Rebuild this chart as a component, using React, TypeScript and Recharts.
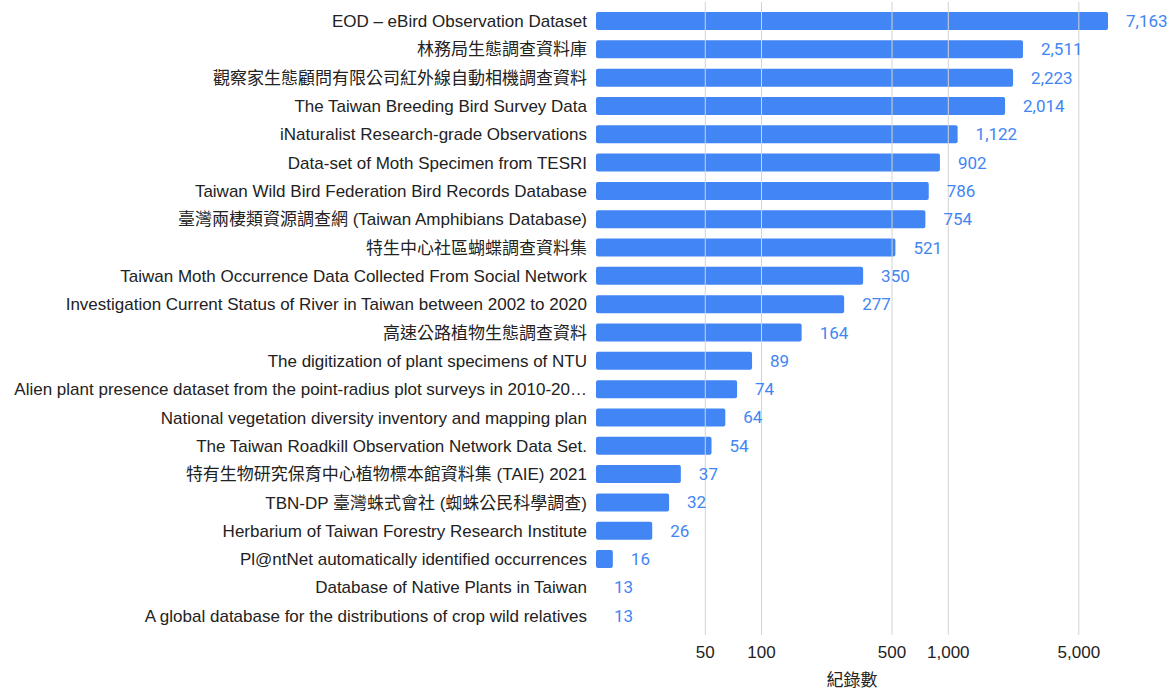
import React from 'react';
import { BarChart, Bar, XAxis, YAxis, ReferenceLine, LabelList } from 'recharts';

const categories: string[] = [
  'EOD – eBird Observation Dataset',
  '林務局生態調查資料庫',
  '觀察家生態顧問有限公司紅外線自動相機調查資料',
  'The Taiwan Breeding Bird Survey Data',
  'iNaturalist Research-grade Observations',
  'Data-set of Moth Specimen from TESRI',
  'Taiwan Wild Bird Federation Bird Records Database',
  '臺灣兩棲類資源調查網 (Taiwan Amphibians Database)',
  '特生中心社區蝴蝶調查資料集',
  'Taiwan Moth Occurrence Data Collected From Social Network',
  'Investigation Current Status of River in Taiwan between 2002 to 2020',
  '高速公路植物生態調查資料',
  'The digitization of plant specimens of NTU',
  'Alien plant presence dataset from the point-radius plot surveys in 2010-20…',
  'National vegetation diversity inventory and mapping plan',
  'The Taiwan Roadkill Observation Network Data Set.',
  '特有生物研究保育中心植物標本館資料集 (TAIE) 2021',
  'TBN-DP 臺灣蛛式會社 (蜘蛛公民科學調查)',
  'Herbarium of Taiwan Forestry Research Institute',
  'Pl@ntNet automatically identified occurrences',
  'Database of Native Plants in Taiwan',
  'A global database for the distributions of crop wild relatives',
];

const recordCounts: number[] = [
  7163, 2511, 2223, 2014, 1122, 902, 786, 754, 521, 350, 277, 164, 89, 74, 64, 54, 37, 32, 26, 16, 13, 13,
];

const xTicks: number[] = [50, 100, 500, 1000, 5000];
const xDomain: number[] = [13, 7163];
const xAxisTitle = '紀錄數';

const data = categories.map((name, i) => ({ name, value: recordCounts[i] }));

const fmt = (v: number) => Number(v).toLocaleString('en-US');

const LATIN = '"Liberation Sans", Arial, "Noto Sans CJK TC", sans-serif';
const BLUE = '#4285F4';

const YTick = (props: any) => {
  const { x, y, payload } = props;
  return (
    <text x={x - 9} y={y} dy="0.35em" textAnchor="end" fontSize={17} fontFamily={LATIN} fill="#222">
      {payload.value}
    </text>
  );
};

const XTick = (props: any) => {
  const { x, y, payload } = props;
  return (
    <text x={x} y={y + 17} dy="0.35em" textAnchor="middle" fontSize={17} fontFamily={LATIN} fill="#222">
      {fmt(payload.value)}
    </text>
  );
};

export default function App() {
  return (
    <div style={{ position: 'absolute', left: 0, top: 0, background: '#fff' }}>
      <BarChart
        width={1175}
        height={691}
        data={data}
        layout="vertical"
        margin={{ top: 2, right: 67, bottom: 0, left: 0 }}
      >
        <XAxis
          type="number"
          scale="log"
          domain={xDomain}
          ticks={xTicks}
          allowDataOverflow
          axisLine={false}
          tickLine={false}
          tickSize={0}
          tickMargin={0}
          height={56}
          tick={<XTick />}
          interval={0}
          label={{
            value: xAxisTitle,
            position: 'insideBottom',
            offset: 5,
            fontSize: 17,
            fontFamily: LATIN,
            fill: '#222',
          }}
        />
        <YAxis
          type="category"
          dataKey="name"
          width={596}
          axisLine={false}
          tickLine={false}
          tickSize={0}
          tickMargin={0}
          interval={0}
          padding={{ top: 5, bottom: 5 }}
          tick={<YTick />}
        />
        {xTicks.map((t) => (
          <ReferenceLine key={t} x={t} stroke="#d3d3d3" strokeWidth={1} ifOverflow="visible" />
        ))}
        <Bar dataKey="value" fill={BLUE} barSize={18} radius={2} minPointSize={0.01} isAnimationActive={false}>
          <LabelList
            dataKey="value"
            position="right"
            offset={18}
            formatter={(v: any) => fmt(v)}
            fill={BLUE}
            fontSize={17}
            fontFamily='Roboto, "Liberation Sans", sans-serif'
          />
        </Bar>
      </BarChart>
    </div>
  );
}
